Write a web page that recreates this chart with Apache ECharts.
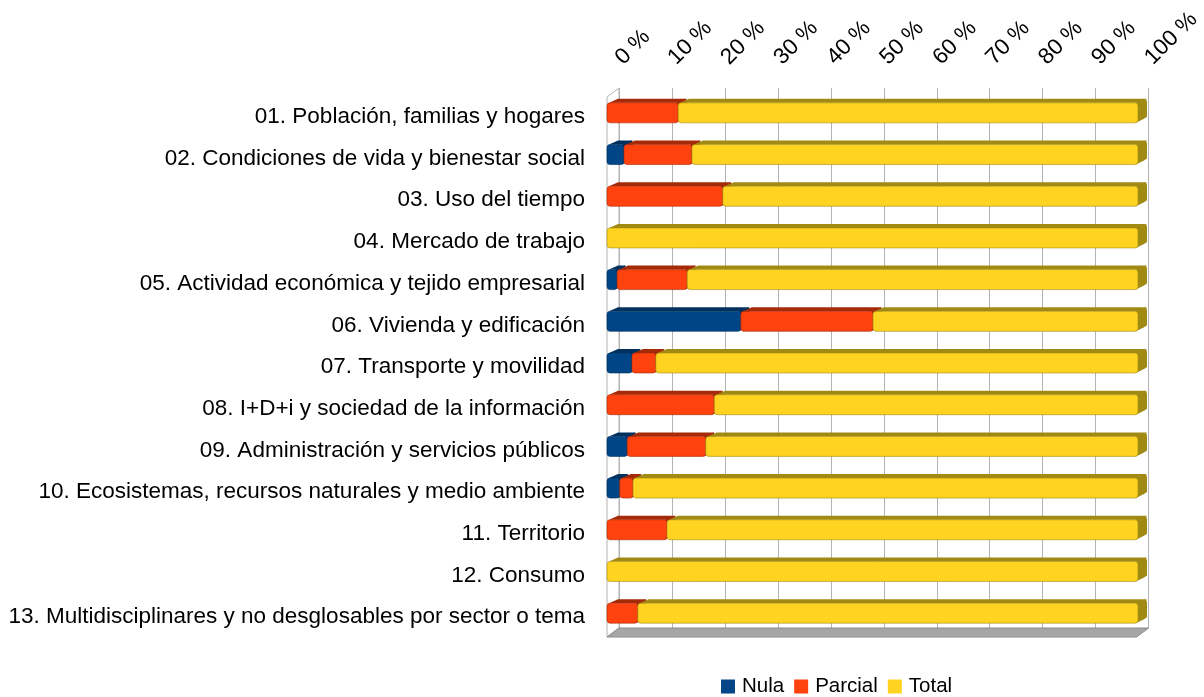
<!DOCTYPE html>
<html>
<head>
<meta charset="utf-8">
<script src="https://cdn.jsdelivr.net/npm/echarts@6/dist/echarts.min.js"></script>
<style>
  html, body { margin: 0; padding: 0; background: #fff; }
  #chart { width: 1204px; height: 697px; }
</style>
</head>
<body>
<div id="chart"></div>
<script>
// categorías (de arriba a abajo)
var categories = [
  '01. Población, familias y hogares',
  '02. Condiciones de vida y bienestar social',
  '03. Uso del tiempo',
  '04. Mercado de trabajo',
  '05. Actividad económica y tejido empresarial',
  '06. Vivienda y edificación',
  '07. Transporte y movilidad',
  '08. I+D+i y sociedad de la información',
  '09. Administración y servicios públicos',
  '10. Ecosistemas, recursos naturales y medio ambiente',
  '11. Territorio',
  '12. Consumo',
  '13. Multidisciplinares y no desglosables por sector o tema'
];
var seriesNames = ['Nula', 'Parcial', 'Total'];
var nula    = [0, 3.2, 0, 0, 1.9, 25.2, 4.7, 0, 3.8, 2.4, 0, 0, 0];
var parcial = [13.4, 12.8, 21.8, 0, 13.2, 24.9, 4.5, 20.2, 14.8, 2.5, 11.3, 0, 5.8];
var total   = [86.6, 84.0, 78.2, 100, 84.9, 49.9, 90.8, 79.8, 81.4, 95.1, 88.7, 100, 94.2];
var tickValues = [0, 10, 20, 30, 40, 50, 60, 70, 80, 90, 100];

// colores: frente / cara superior y lateral
var colors = [
  { front: '#004586', dark: '#00315f' },
  { front: '#ff420e', dark: '#a52a08' },
  { front: '#ffd320', dark: '#a08a14' }
];

var myChart = echarts.init(document.getElementById('chart'));

// profundidad 3D de las barras
var DX = 9, DY = 4, LIFT = 4;

function buildData(values, prev) {
  var out = [];
  for (var i = 0; i < values.length; i++) {
    var start = 0;
    for (var k = 0; k < prev.length; k++) start += prev[k][i];
    out.push([start, start + values[i], i]);
  }
  return out;
}

function makeRender(c) {
  return function(params, api) {
    var start = api.value(0), end = api.value(1), cat = api.value(2);
    if (end - start <= 0) return;
    var p0 = api.coord([start, cat]);
    var p1 = api.coord([end, cat]);
    var h = api.size([0, 1])[1] * 0.48;
    var x0 = p0[0], x1 = p1[0];
    var yc = p0[1] - LIFT;
    var top = yc - h / 2, bot = yc + h / 2;
    return {
      type: 'group',
      children: [
        {
          type: 'polygon',
          shape: { points: [[x0 + 2, top], [x1, top], [x1 + DX, top - DY], [x0 + DX + 2, top - DY]] },
          style: { fill: c.dark }
        },
        {
          type: 'polygon',
          shape: { points: [[x1 - 2, top], [x1 + DX - 1, top - DY], [x1 + DX, top - DY + 3], [x1 + DX, bot - DY - 2], [x1 + DX - 3, bot - DY], [x1 - 2, bot]] },
          style: { fill: c.dark }
        },
        {
          type: 'rect',
          shape: { x: x0, y: top, width: x1 - x0, height: h, r: 3 },
          style: { fill: c.front, stroke: c.dark, lineWidth: 0.6 }
        }
      ]
    };
  };
}

// pared izquierda y suelo
function renderFrame(params, api) {
  var cs = params.coordSys;
  var l = cs.x, t = cs.y, r = cs.x + cs.width, b = cs.y + cs.height;
  var fx = -12, fy = 9;
  return {
    type: 'group',
    children: [
      {
        type: 'polygon',
        shape: { points: [[l, t], [l + fx, t + fy], [l + fx, b + fy], [l, b]] },
        style: { fill: '#ffffff', stroke: '#b3b3b3', lineWidth: 1 }
      },
      {
        type: 'polygon',
        shape: { points: [[l, b], [r, b], [r + fx, b + fy], [l + fx, b + fy]] },
        style: { fill: '#a6a6a6', stroke: '#8c8c8c', lineWidth: 1 }
      }
    ]
  };
}

var stacks = [nula, parcial, total];
var series = [{
  type: 'custom',
  name: 'frame',
  xAxisIndex: 0,
  yAxisIndex: 0,
  renderItem: renderFrame,
  data: [[0, 0]],
  silent: true,
  z: 1
}];
for (var s = 0; s < stacks.length; s++) {
  series.push({
    type: 'custom',
    name: seriesNames[s],
    xAxisIndex: 1,
    yAxisIndex: 1,
    renderItem: makeRender(colors[s]),
    itemStyle: { color: colors[s].front },
    encode: { x: [0, 1], y: 2 },
    data: buildData(stacks[s], stacks.slice(0, s)),
    z: 5
  });
}

var option = {
  animation: false,
  textStyle: { fontFamily: 'Liberation Sans, Arial, sans-serif' },
  legend: {
    data: seriesNames,
    left: 716,
    top: 671,
    icon: 'rect',
    itemWidth: 14,
    itemHeight: 14,
    itemGap: 10,
    textStyle: { fontSize: 20.5, color: '#000', padding: [0, 0, 0, 2] }
  },
  grid: [
    { left: 619, width: 532, top: 88, height: 540 },
    { left: 607, width: 531, top: 96, height: 542 }
  ],
  xAxis: [
    {
      gridIndex: 0,
      type: 'value',
      position: 'top',
      min: 0,
      max: 100,
      interval: 10,
      axisLine: { show: false },
      axisTick: { show: false },
      splitLine: { show: true, lineStyle: { color: '#b3b3b3', width: 1 } },
      axisLabel: {
        rotate: -45,
        margin: 27,
        fontSize: 22.5,
        color: '#000',
        formatter: function(v) { return tickValues.indexOf(v) >= 0 ? v + ' %' : ''; }
      }
    },
    {
      gridIndex: 1,
      type: 'value',
      min: 0,
      max: 100,
      show: false
    }
  ],
  yAxis: [
    {
      gridIndex: 0,
      type: 'category',
      data: categories,
      inverse: true,
      show: false
    },
    {
      gridIndex: 1,
      type: 'category',
      data: categories,
      inverse: true,
      axisLine: { show: false },
      axisTick: { show: false },
      splitLine: { show: false },
      axisLabel: { margin: 22, fontSize: 22.5, color: '#000' }
    }
  ],
  series: series
};
myChart.setOption(option);
window.onresize = myChart.resize;
</script>
</body>
</html>
